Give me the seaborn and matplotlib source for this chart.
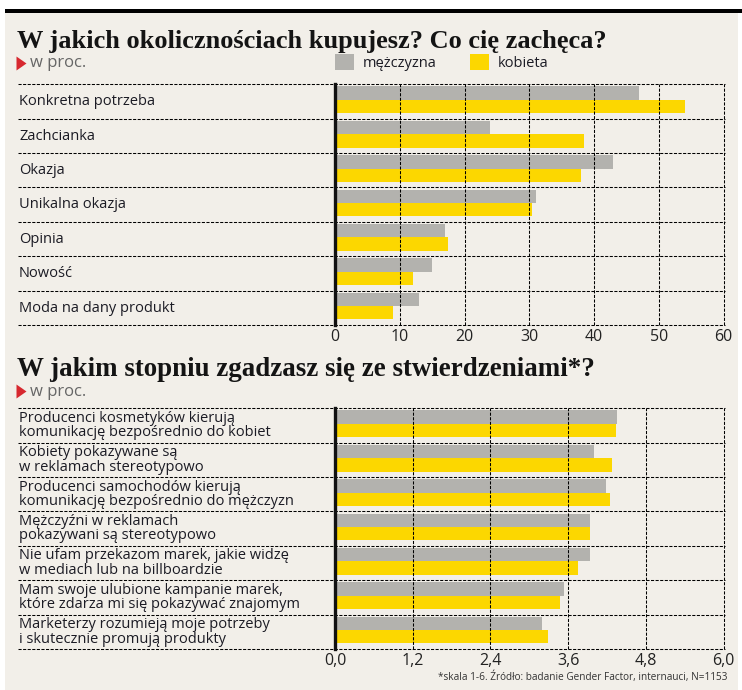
import numpy as np
import pandas as pd
import matplotlib
matplotlib.use('Agg')
import matplotlib.pyplot as plt
import seaborn as sns
from matplotlib.patches import Rectangle, Polygon

# ---------------- Data ----------------
okolicznosci = ["Konkretna potrzeba", "Zachcianka", "Okazja", "Unikalna okazja",
                "Opinia", "Nowość", "Moda na dany produkt"]
okol_m = [47, 24, 43, 31, 17, 15, 13]
okol_k = [54, 38.5, 38, 30.5, 17.5, 12, 9]

stwierdzenia = [
    "Producenci kosmetyków kierują\nkomunikację bezpośrednio do kobiet",
    "Kobiety pokazywane są\nw reklamach stereotypowo",
    "Producenci samochodów kierują\nkomunikację bezpośrednio do mężczyzn",
    "Mężczyźni w reklamach\npokazywani są stereotypowo",
    "Nie ufam przekazom marek, jakie widzę\nw mediach lub na billboardzie",
    "Mam swoje ulubione kampanie marek,\nktóre zdarza mi się pokazywać znajomym",
    "Marketerzy rozumieją moje potrzeby\ni skutecznie promują produkty",
]
stw_m = [4.36, 4.00, 4.19, 3.94, 3.94, 3.54, 3.20]
stw_k = [4.34, 4.28, 4.25, 3.94, 3.76, 3.48, 3.29]

plec = ["mężczyzna", "kobieta"]
ticks1 = [0, 10, 20, 30, 40, 50, 60]
ticks1_lab = ["0", "10", "20", "30", "40", "50", "60"]
ticks2 = [0, 1.2, 2.4, 3.6, 4.8, 6.0]
ticks2_lab = ["0,0", "1,2", "2,4", "3,6", "4,8", "6,0"]

title1 = "W jakich okolicznościach kupujesz? Co cię zachęca?"
title2 = "W jakim stopniu zgadzasz się ze stwierdzeniami*?"
subtitle = "w proc."
footnote = "*skala 1-6. Źródło: badanie Gender Factor, internauci, N=1153"

# ---------------- Style ----------------
W, H = 742, 690
BG = "#f2efe9"
GREY = "#b3b2ae"
YELLOW = "#fcd700"
INK = "#1b1b24"
SANS = ["Open Sans", "DejaVu Sans"]
SERIF = ["Liberation Serif", "DejaVu Serif"]
DASH = (0, (3, 1.4))
plt.rcParams['font.family'] = SANS


def long_df(cats, m, k):
    n = len(cats)
    return pd.DataFrame({"kategoria": cats * 2,
                         "płeć": [plec[0]] * n + [plec[1]] * n,
                         "wartość": m + k})


def fx(px):
    return px / W


def fy(py):
    return 1 - py / H


fig = plt.figure(figsize=(W / 100, H / 100), dpi=100)
fig.patch.set_facecolor("white")
fig.patches.append(Rectangle((fx(5), 0), fx(733), fy(12), transform=fig.transFigure,
                             facecolor=BG, edgecolor="none", zorder=-10))
fig.patches.append(Rectangle((fx(5), fy(13)), fx(737), 3.5 / H, transform=fig.transFigure,
                             facecolor="black", edgecolor="none", zorder=-9))


def panel(top_px, cats, m, k, ticks, tick_lab, xmax, legend=False):
    ax = fig.add_axes([fx(335), fy(top_px + 240.7), fx(388.5), 240.7 / H])
    ax.set_facecolor("none")
    sns.barplot(data=long_df(cats, m, k), y="kategoria", x="wartość", hue="płeć",
                order=cats, hue_order=plec, palette=[GREY, YELLOW], width=0.78,
                saturation=1, errorbar=None, orient="h", legend=legend, ax=ax)
    for p in ax.patches:
        p.set_zorder(1)
    ax.set_xlim(0, xmax)
    ax.set_ylim(len(cats) - 0.45, -0.45)
    ax.set_xticks(ticks, tick_lab)
    ax.set_xlabel("")
    ax.set_ylabel("")
    ax.grid(False)
    # dashed grid drawn over the bars, like in the print version
    for v in ticks[1:]:
        ax.axvline(v, color="black", lw=0.75, ls=DASH, clip_on=False, zorder=3)
    x0 = (18 - 335) / 388.5
    for i in range(len(cats) + 1):
        ax.axhline(i - 0.45, xmin=x0, xmax=1.004, color="black", lw=0.75, ls=DASH,
                   clip_on=False, zorder=3)
    for s in ["top", "right", "bottom"]:
        ax.spines[s].set_visible(False)
    ax.spines["left"].set_linewidth(2.4)
    ax.spines["left"].set_color("#111111")
    ax.spines["left"].set_zorder(4)
    ax.tick_params(axis="x", length=0, pad=3, labelsize=11.5, labelcolor="#222222")
    ax.tick_params(axis="y", length=0, pad=(335 - 19) * 0.72, labelsize=10.5,
                   labelcolor=INK)
    for t in ax.get_yticklabels():
        t.set_horizontalalignment("left")
        t.set_linespacing(0.95)
    return ax


ax1 = panel(84.3, okolicznosci, okol_m, okol_k, ticks1, ticks1_lab, 60, legend=True)
ax2 = panel(408.3, stwierdzenia, stw_m, stw_k, ticks2, ticks2_lab, 6.0)

handles, labels = ax1.get_legend_handles_labels()
ax1.get_legend().remove()
fig.legend(handles, labels, loc="center left", bbox_to_anchor=(fx(335), fy(62.5)),
           ncol=2, frameon=False, borderpad=0, borderaxespad=0, fontsize=10.5,
           handlelength=1.3, handleheight=1.3, handletextpad=0.6, columnspacing=2.3,
           labelcolor=INK)

# titles, fitted to the reference width
fig.canvas.draw()
rend = fig.canvas.get_renderer()
for txt, base, right in [(title1, 48, 607), (title2, 376, 595)]:
    t = fig.text(fx(17), fy(base), txt, family=SERIF, weight="bold", fontsize=20,
                 color="#141414", va="baseline")
    w = t.get_window_extent(rend).width
    t.set_fontsize(20 * (right - 17) / w)

for base, cy in [(67, 63.5), (396, 391.5)]:
    fig.patches.append(Polygon([(fx(16.5), fy(cy - 7)), (fx(16.5), fy(cy + 7)),
                                (fx(26.5), fy(cy))], closed=True, transform=fig.transFigure,
                               facecolor="#d7282f", edgecolor="none"))
    fig.text(fx(29.5), fy(base), subtitle, fontsize=12, color="#666666", va="baseline")

fig.text(fx(727), fy(677), footnote, ha="right", va="center", fontsize=7.2,
         color="#333333")

fig.savefig("out.png", dpi=100, facecolor=fig.get_facecolor())
